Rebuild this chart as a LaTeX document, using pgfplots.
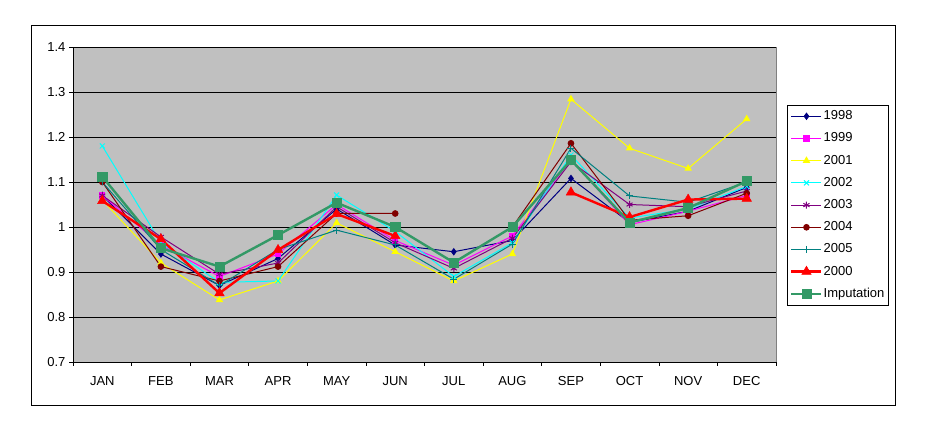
\documentclass[border=0pt]{standalone}
\usepackage{fontspec}
\setmainfont{Liberation Sans}
\usepackage{pgfplots}
\pgfplotsset{compat=1.18}
\definecolor{bggray}{RGB}{192,192,192}
\definecolor{c1998}{RGB}{0,0,128}
\definecolor{c1999}{RGB}{255,0,255}
\definecolor{c2001}{RGB}{255,255,0}
\definecolor{c2002}{RGB}{0,255,255}
\definecolor{c2003}{RGB}{128,0,128}
\definecolor{c2004}{RGB}{128,0,0}
\definecolor{c2005}{RGB}{0,128,128}
\definecolor{c2000}{RGB}{255,0,0}
\definecolor{cimp}{RGB}{51,153,102}
\begin{document}
\begin{tikzpicture}[x=1pt,y=1pt]
\path[use as bounding box] (0,0) rectangle (926,428);
\fill[white] (0,0) rectangle (926,428);
\draw[black, line width=0.8pt] (31,23) rectangle (895,403);
\begin{axis}[
  at={(73pt,66pt)}, anchor=south west,
  scale only axis, width=703pt, height=315pt,
  xmin=-0.5, xmax=11.5, ymin=0.7, ymax=1.4,
  axis background/.style={fill=bggray, draw=gray},
  axis lines=left, axis line style={-, black, line width=0.8pt},
  xtick={0,...,11},
  xticklabels={JAN,FEB,MAR,APR,MAY,JUN,JUL,AUG,SEP,OCT,NOV,DEC},
  major x tick style={draw=none},
  minor xtick={-0.5,0.5,...,11.5},
  ytick={0.7,0.8,0.9,1,1.1,1.2,1.3,1.4},
  tick align=outside,
  major tick length=4pt, minor tick length=4pt,
  tick style={black, line width=0.6pt},
  ymajorgrids, major grid style={black, line width=0.8pt},
  tick label style={font=\fontsize{13}{15}\selectfont},
  /pgf/number format/assume math mode=true,
  yticklabel style={/pgf/number format/fixed},
  xticklabel style={yshift=-7pt},
  clip=false,
  unbounded coords=jump,
  legend style={at={(1.0156,0.8159)}, anchor=north west, draw=black, line width=0.6pt,
    fill=white, font=\fontsize{13}{15}\selectfont, inner xsep=3pt, inner ysep=3.5pt,
    row sep=7.2pt,
    nodes={text height=10pt, text depth=3pt, inner sep=1pt, anchor=west}},
  legend cell align=left,
  legend image code/.code={\draw[mark repeat=2,mark phase=2,#1] plot coordinates {(0pt,0pt)(15pt,0pt)(30pt,0pt)};},
]
\addplot[c1998, line width=1pt, mark=diamond*, mark size=3pt, mark options={solid}] coordinates {
(0,1.07)(1,0.94)(2,0.87)(3,0.93)(4,1.04)(5,0.96)(6,0.945)(7,0.97)(8,1.108)(9,1.01)(10,1.035)(11,1.088)};
\addlegendentry{1998}
\addplot[c1999, line width=1pt, mark=square*, mark size=2.6pt] coordinates {
(0,1.07)(1,0.96)(2,0.89)(3,0.94)(4,1.05)(5,0.97)(6,0.915)(7,0.98)(8,1.15)(9,1.005)(10,1.035)(11,1.07)};
\addlegendentry{1999}
\addplot[c2001, line width=1pt, mark=triangle*, mark size=3.4pt] coordinates {
(0,1.06)(1,0.92)(2,0.838)(3,0.88)(4,1.009)(5,0.945)(6,0.88)(7,0.94)(8,1.284)(9,1.175)(10,1.13)(11,1.24)};
\addlegendentry{2001}
\addplot[c2002, line width=1pt, mark=x, mark size=3.5pt] coordinates {
(0,1.18)(1,0.965)(2,0.877)(3,0.88)(4,1.071)(5,0.99)(6,0.89)(7,0.965)(8,1.16)(9,1.02)(10,1.04)(11,1.09)};
\addlegendentry{2002}
\addplot[c2003, line width=1pt, mark=asterisk, mark size=3.5pt] coordinates {
(0,1.07)(1,0.978)(2,0.895)(3,0.92)(4,1.045)(5,0.965)(6,0.908)(7,0.975)(8,1.145)(9,1.05)(10,1.045)(11,1.08)};
\addlegendentry{2003}
\addplot[c2004, line width=1pt, mark=*, mark size=2.8pt] coordinates {
(0,1.10)(1,0.912)(2,0.88)(3,0.912)(4,1.03)(5,1.03)(6,nan)(7,1.00)(8,1.186)(9,1.015)(10,1.025)(11,1.075)};
\addlegendentry{2004}
\addplot[c2005, line width=1pt, mark=+, mark size=3.5pt] coordinates {
(0,1.10)(1,0.95)(2,0.87)(3,0.95)(4,0.993)(5,0.96)(6,0.884)(7,0.962)(8,1.175)(9,1.069)(10,1.055)(11,1.10)};
\addlegendentry{2005}
\addplot[c2000, line width=2.4pt, mark=triangle*, mark size=5.5pt, mark options={line width=0.5pt}] coordinates {
(0,1.058)(1,0.973)(2,0.853)(3,0.949)(4,1.029)(5,0.98)(6,nan)(7,nan)(8,1.077)(9,1.022)(10,1.061)(11,1.063)};
\addlegendentry{2000}
\addplot[cimp, line width=2.4pt, mark=square*, mark size=4.6pt, mark options={line width=0.5pt}] coordinates {
(0,1.112)(1,0.953)(2,0.912)(3,0.982)(4,1.054)(5,1.0)(6,0.921)(7,1.0)(8,1.149)(9,1.01)(10,1.042)(11,1.102)};
\addlegendentry{Imputation}
\end{axis}
\end{tikzpicture}
\end{document}
